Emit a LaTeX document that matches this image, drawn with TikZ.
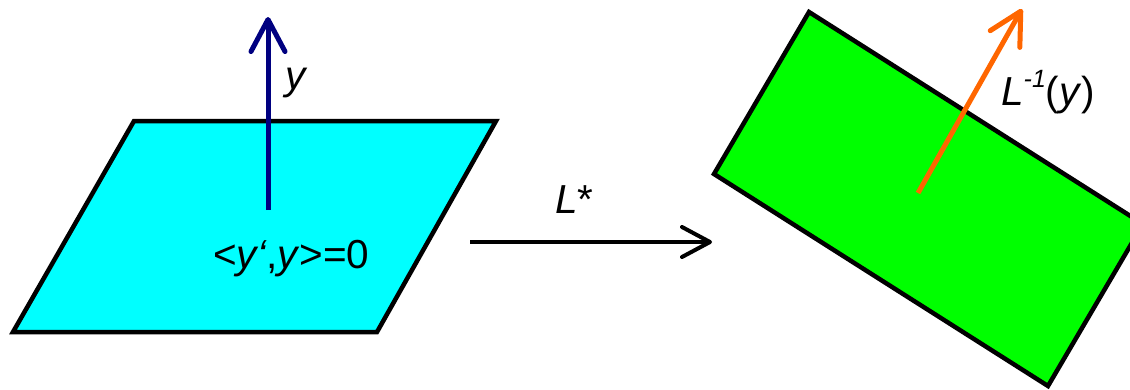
\documentclass[tikz,border=0pt]{standalone}
\usepackage{fontspec}
\setmainfont{Liberation Sans}
\usetikzlibrary{arrows.meta}
\definecolor{planecyan}{RGB}{0,255,255}
\definecolor{planegreen}{RGB}{0,255,0}
\definecolor{vecblue}{RGB}{0,0,128}
\definecolor{vecorange}{RGB}{255,102,0}
\tikzset{
  plane/.style={draw=black, line width=4.5pt, line join=miter},
  vec/.style={line width=5pt, -{Straight Barb[length=32pt,width=34pt,line cap=round,line join=round]}},
  maparrow/.style={line width=4pt, -{Straight Barb[length=28pt,width=30pt,line cap=round,line join=round]}},
  lbl/.style={inner sep=0pt, font=\fontsize{40.5}{48}\selectfont},
}
\begin{document}
\begin{tikzpicture}[x=1pt,y=-1pt]
\useasboundingbox (0,0) rectangle (1130,389);
\clip (0,0) rectangle (1130,389);
% left plane
\filldraw[plane, fill=planecyan] (134,121) -- (496,121) -- (377,332) -- (13,332) -- cycle;
\coordinate (ytail) at (268,210);
\coordinate (ytip) at (268,17);
\draw[vec, draw=vecblue] (ytail) -- (ytip);
\node[lbl] (ylabel) at (297,83) {\textit{y}};
\node[lbl, anchor=base west] (orth) at (213,268) {<\textit{y‘},\textit{y}>=0};
% map arrow
\coordinate (mapfrom) at (470,242);
\coordinate (mapto) at (712,242);
\draw[maparrow] (mapfrom) -- (mapto);
\node[lbl, anchor=base west] (Lstar) at (555,213) {\textit{L}*};
% right plane
\filldraw[plane, fill=planegreen] (809,12) -- (1143,224) -- (1048,386) -- (714,174) -- cycle;
\coordinate (otail) at (918,193);
\coordinate (otip) at (1022,9);
\draw[vec, draw=vecorange] (otail) -- (otip);
\node[lbl, anchor=base west] (Linv) at (1001,105) {\textit{L}\raisebox{0.42em}{\fontsize{25}{25}\selectfont\itshape -1}(\textit{y})};
\end{tikzpicture}
\end{document}
